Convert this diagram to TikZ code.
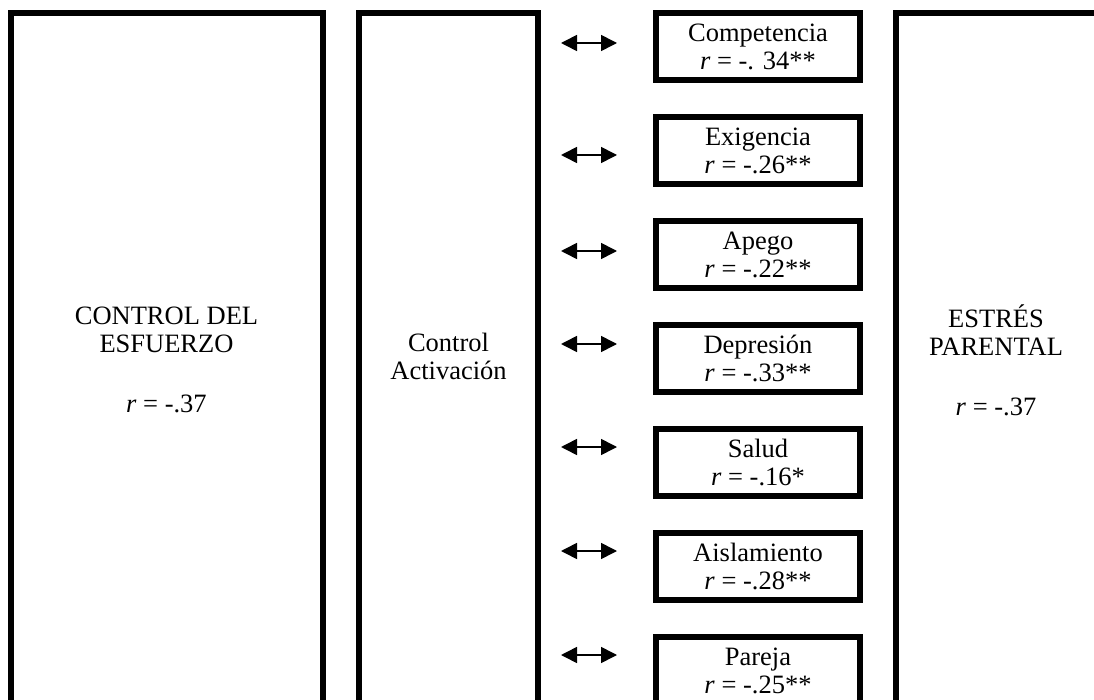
\documentclass[tikz,border=0pt]{standalone}
\usepackage{fontspec}
\setmainfont{Liberation Serif}
\usetikzlibrary{arrows.meta}
\begin{document}
\begin{tikzpicture}[x=1pt,y=1pt,
    every node/.style={font=\fontsize{26.5}{28}\selectfont,inner sep=0pt,align=center},
    frame/.style={draw=black,line width=6pt},
    subbox/.style={frame,minimum width=204pt,minimum height=67pt},
    link/.style={{Triangle[length=16pt,width=16pt]}-{Triangle[length=16pt,width=16pt]},line width=1.6pt}]
    \useasboundingbox (0,0) rectangle (1094,-700);
    \clip (0,0) rectangle (1094,-700);
    \draw [frame] (11,-13) rectangle (323,-760);
    \node (esfuerzo) at (166.5,-360) {CONTROL DEL\\ESFUERZO\\[32pt]\textit{r} = -.37};
    \draw [frame] (359,-13) rectangle (538,-760);
    \node (activacion) at (448.5,-356) {Control\\Activación};
    \draw [frame] (896,-13) rectangle (1130,-760);
    \node (estres) at (996,-360) {ESTRÉS\\PARENTAL\\[32pt]\textit{r} = -.37};
    \node (comp) [subbox] at (758,-46.5) {Competencia\\\textit{r} = -. 34**};
    \node (exig) [subbox] at (758,-150.5) {Exigencia\\\textit{r} = -.26**};
    \node (apego) [subbox] at (758,-254.5) {Apego\\\textit{r} = -.22**};
    \node (depr) [subbox] at (758,-358.5) {Depresión\\\textit{r} = -.33**};
    \node (salud) [subbox] at (758,-462.5) {Salud\\\textit{r} = -.16*};
    \node (aisl) [subbox] at (758,-566.5) {Aislamiento\\\textit{r} = -.28**};
    \node (pareja) [subbox] at (758,-670.5) {Pareja\\\textit{r} = -.25**};
    \coordinate (comp-a) at (561,-43);
    \coordinate (comp-b) at (617,-43);
    \coordinate (exig-a) at (561,-155);
    \coordinate (exig-b) at (617,-155);
    \coordinate (apego-a) at (561,-251);
    \coordinate (apego-b) at (617,-251);
    \coordinate (depr-a) at (561,-344);
    \coordinate (depr-b) at (617,-344);
    \coordinate (salud-a) at (561,-447);
    \coordinate (salud-b) at (617,-447);
    \coordinate (aisl-a) at (561,-551);
    \coordinate (aisl-b) at (617,-551);
    \coordinate (pareja-a) at (561,-655);
    \coordinate (pareja-b) at (617,-655);
    \draw [link] (comp-a) -- (comp-b);
    \draw [link] (exig-a) -- (exig-b);
    \draw [link] (apego-a) -- (apego-b);
    \draw [link] (depr-a) -- (depr-b);
    \draw [link] (salud-a) -- (salud-b);
    \draw [link] (aisl-a) -- (aisl-b);
    \draw [link] (pareja-a) -- (pareja-b);
\end{tikzpicture}
\end{document}
